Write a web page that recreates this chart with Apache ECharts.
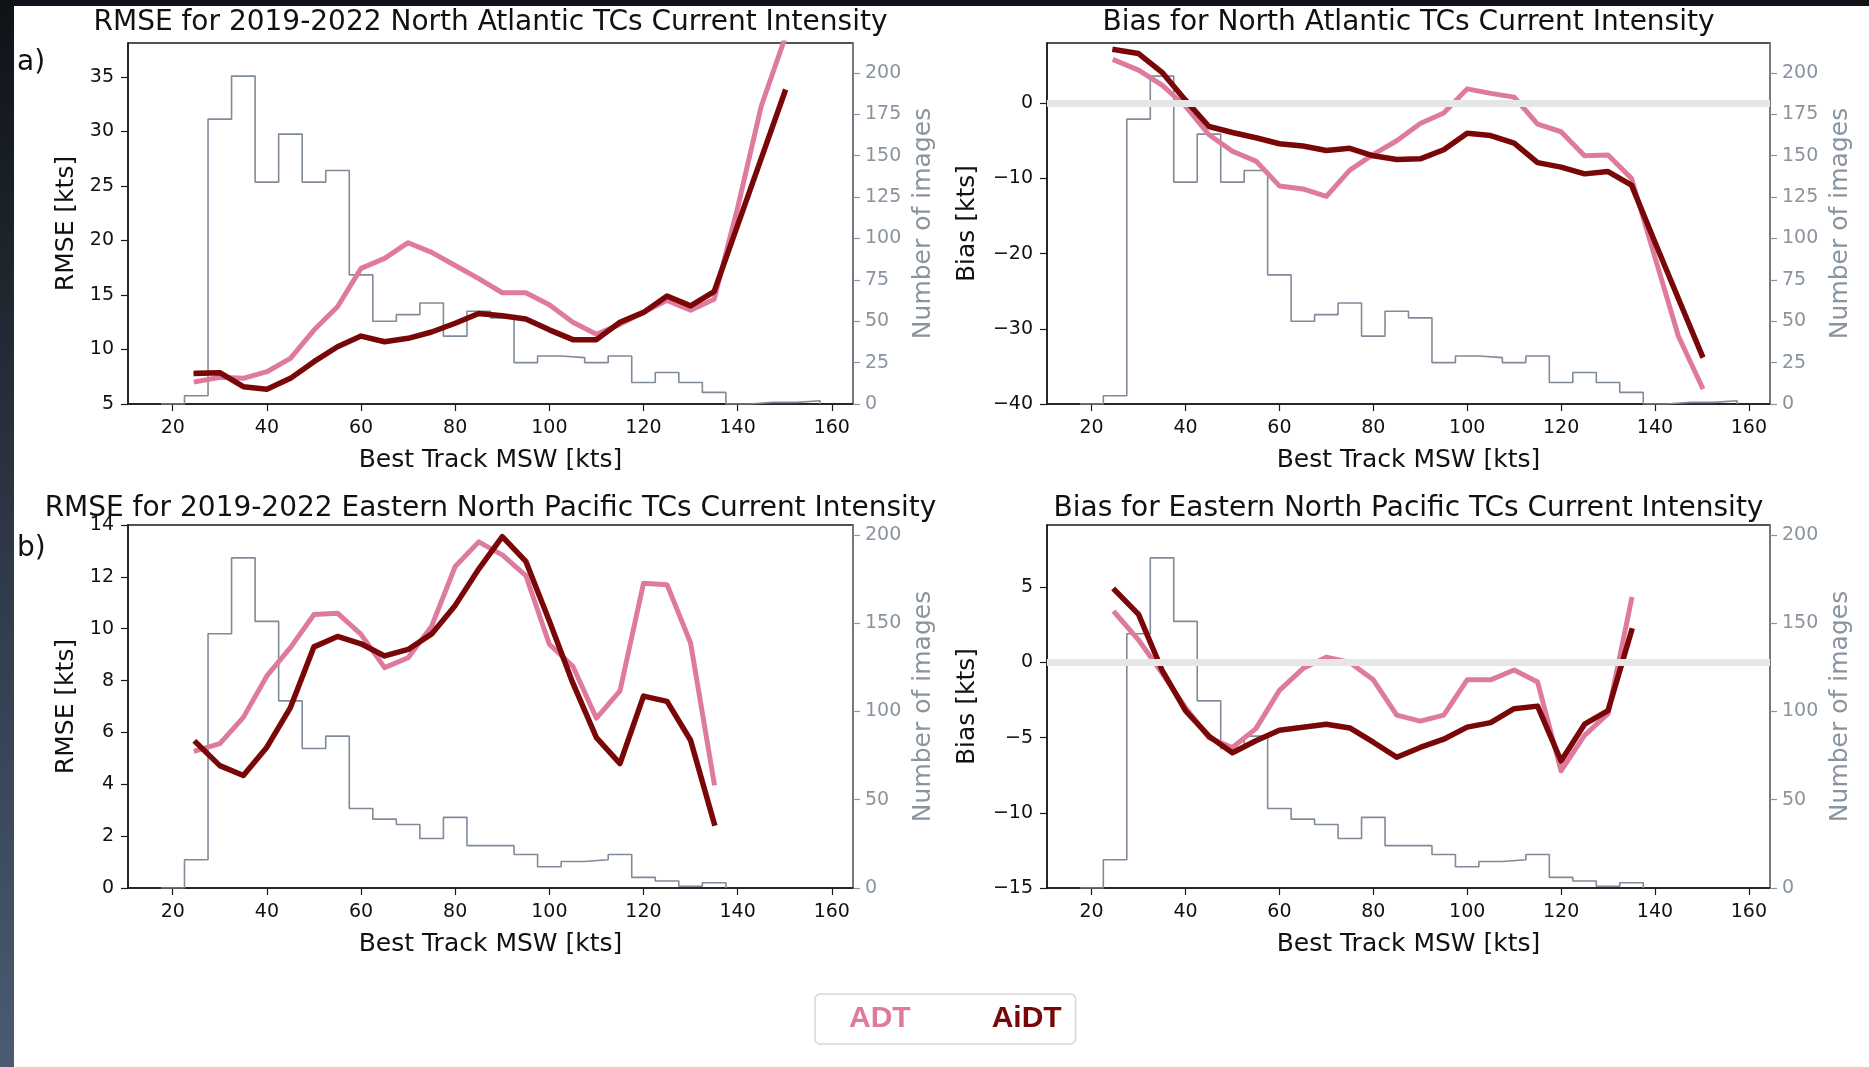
<!DOCTYPE html>
<html>
<head>
<meta charset="utf-8">
<script src="https://cdn.jsdelivr.net/npm/echarts@6/dist/echarts.min.js"></script>
<style>
  html, body { margin: 0; padding: 0; background: #fff; }
  #chart { position: absolute; left: 0; top: 0; width: 1869px; height: 1067px; }
  #edgeLeft { position: absolute; left: 0; top: 0; width: 14px; height: 1067px;
              background: linear-gradient(#0f1318, #4b5b72); }
  #edgeTop { position: absolute; left: 0; top: 0; width: 1869px; height: 6px; background: #0f1318; }
</style>
</head>
<body>
<div id="chart"></div>
<div id="edgeLeft"></div>
<div id="edgeTop"></div>
<script>
// ---- North Atlantic (2019-2022) ----
const naKts = [25, 30, 35, 40, 45, 50, 55, 60, 65, 70, 75, 80, 85, 90, 95, 100, 105, 110, 115, 120, 125, 130, 135, 140, 145, 150];
const naRmseADT  = [7.05, 7.45, 7.35, 7.96, 9.19, 11.78, 13.92, 17.44, 18.35, 19.79, 18.9, 17.7, 16.5, 15.2, 15.2, 14.1, 12.5, 11.4, 12.3, 13.4, 14.5, 13.6, 14.6, 23.0, 32.3, 38.5];
const naRmseAiDT = [7.81, 7.87, 6.59, 6.35, 7.35, 8.88, 10.25, 11.23, 10.71, 11.02, 11.6, 12.4, 13.3, 13.1, 12.8, 11.8, 10.9, 10.9, 12.5, 13.4, 14.9, 14.0, 15.3, 21.4, 27.5, 33.6];
const naBiasADT  = [5.7, 4.4, 2.4, -0.4, -4.2, -6.4, -7.7, -11.0, -11.4, -12.4, -8.9, -6.8, -5.0, -2.7, -1.3, 1.9, 1.3, 0.8, -2.8, -3.8, -7.0, -6.9, -10.0, -20.5, -31.0, -37.7];
const naBiasAiDT = [7.1, 6.6, 4.1, 0.4, -3.1, -3.9, -4.6, -5.4, -5.7, -6.3, -6.0, -7.0, -7.5, -7.4, -6.2, -4.0, -4.3, -5.3, -7.9, -8.5, -9.4, -9.1, -10.9, -18.5, -26.0, -33.5];
const naBins  = [20, 25, 30, 35, 40, 45, 50, 55, 60, 65, 70, 75, 80, 85, 90, 95, 100, 105, 110, 115, 120, 125, 130, 135, 140, 145, 150, 155];
const naCount = [0, 5, 172, 198, 134, 163, 134, 141, 78, 50, 54, 61, 41, 56, 52, 25, 29, 28, 25, 29, 13, 19, 13, 7, 0, 1, 1, 2];

// ---- Eastern North Pacific (2019-2022) ----
const enpKts = [25, 30, 35, 40, 45, 50, 55, 60, 65, 70, 75, 80, 85, 90, 95, 100, 105, 110, 115, 120, 125, 130, 135];
const enpRmseADT  = [5.3, 5.57, 6.58, 8.18, 9.27, 10.55, 10.6, 9.78, 8.5, 8.88, 10.1, 12.4, 13.35, 12.85, 12.05, 9.4, 8.55, 6.55, 7.6, 11.75, 11.7, 9.45, 4.05];
const enpRmseAiDT = [5.6, 4.72, 4.34, 5.43, 6.96, 9.3, 9.7, 9.42, 8.95, 9.2, 9.8, 10.9, 12.3, 13.55, 12.6, 10.3, 7.9, 5.8, 4.8, 7.4, 7.2, 5.7, 2.5];
const enpBiasADT  = [3.3, 1.5, -0.7, -3.0, -5.0, -5.65, -4.4, -1.85, -0.4, 0.35, 0.0, -1.15, -3.5, -3.9, -3.5, -1.15, -1.15, -0.5, -1.3, -7.2, -4.85, -3.4, 4.2];
const enpBiasAiDT = [4.8, 3.2, -0.5, -3.2, -4.9, -6.0, -5.2, -4.5, -4.3, -4.1, -4.35, -5.3, -6.3, -5.65, -5.1, -4.3, -4.0, -3.07, -2.9, -6.55, -4.1, -3.2, 2.1];
const enpBins  = [20, 25, 30, 35, 40, 45, 50, 55, 60, 65, 70, 75, 80, 85, 90, 95, 100, 105, 110, 115, 120, 125, 130, 135];
const enpCount = [0, 16, 144, 187, 151, 106, 79, 86, 45, 39, 36, 28, 40, 24, 24, 19, 12, 15, 16, 19, 6, 4, 1, 3];

// ---- tick labels ----
const xTicks = [20, 40, 60, 80, 100, 120, 140, 160];
const naRmseTicks = [5, 10, 15, 20, 25, 30, 35];
const naBiasTicks = [-40, -30, -20, -10, 0];
const enpRmseTicks = [0, 2, 4, 6, 8, 10, 12, 14];
const enpBiasTicks = [-15, -10, -5, 0, 5];
const naCountTicks = [0, 25, 50, 75, 100, 125, 150, 175, 200];
const enpCountTicks = [0, 50, 100, 150, 200];

const ADT_COLOR = '#de7b9c';
const AIDT_COLOR = '#7a0707';
const HIST_COLOR = '#808b99';
const GRAY_TEXT = '#8a949f';
const INK = '#111';
const FONT = 'DejaVu Sans';

// panel frames [left, top, width, height]
const panels = [
  { box: [128, 43, 725, 361], title: 'RMSE for 2019-2022 North Atlantic TCs Current Intensity', titleTop: 9,
    yName: 'RMSE [kts]', yGap: 49, yMin: 5, yMax: 38.1, yTicks: naRmseTicks, cMax: 218, cTicks: naCountTicks,
    kts: naKts, adt: naRmseADT, aidt: naRmseAiDT, bins: naBins, count: naCount, zero: false },
  { box: [1047, 43, 723, 361], title: 'Bias for North Atlantic TCs Current Intensity', titleTop: 9,
    yName: 'Bias [kts]', yGap: 67, yMin: -40, yMax: 8, yTicks: naBiasTicks, cMax: 218, cTicks: naCountTicks,
    kts: naKts, adt: naBiasADT, aidt: naBiasAiDT, bins: naBins, count: naCount, zero: true },
  { box: [128, 525, 725, 363], title: 'RMSE for 2019-2022 Eastern North Pacific TCs Current Intensity', titleTop: 495,
    yName: 'RMSE [kts]', yGap: 49, yMin: 0, yMax: 14, yTicks: enpRmseTicks, cMax: 205.6, cTicks: enpCountTicks,
    kts: enpKts, adt: enpRmseADT, aidt: enpRmseAiDT, bins: enpBins, count: enpCount, zero: false },
  { box: [1047, 525, 723, 363], title: 'Bias for Eastern North Pacific TCs Current Intensity', titleTop: 495,
    yName: 'Bias [kts]', yGap: 67, yMin: -15, yMax: 9.15, yTicks: enpBiasTicks, cMax: 205.6, cTicks: enpCountTicks,
    kts: enpKts, adt: enpBiasADT, aidt: enpBiasAiDT, bins: enpBins, count: enpCount, zero: true }
];

const minus = v => String(v).replace('-', '\u2212');
const pairs = (xs, ys) => xs.map((x, i) => [x, ys[i]]);

// step outline of a histogram, from bin centres and counts
function histOutline(bins, counts) {
  const half = (bins[1] - bins[0]) / 2;
  const pts = [[bins[0] - half, 0]];
  bins.forEach((b, i) => pts.push([b + half, counts[i]]));
  pts.push([bins[bins.length - 1] + half, 0]);
  return pts;
}

const grid = [], xAxis = [], yAxis = [], series = [], title = [];

panels.forEach((p, g) => {
  const [l, t, w, h] = p.box;
  grid.push({ left: l, top: t, width: w, height: h, show: true, borderColor: '#1a1a1a', borderWidth: 1.5,
              backgroundColor: '#fff', containLabel: false });
  title.push({ text: p.title, left: l + w / 2, top: p.titleTop, textAlign: 'center', padding: 0,
               textStyle: { fontFamily: FONT, fontSize: 28, fontWeight: 'normal', color: INK } });

  xAxis.push({
    gridIndex: g, type: 'value', min: 10.5, max: 164.5,
    axisLine: { onZero: false, lineStyle: { color: '#1a1a1a', width: 1.5 } },
    axisTick: { customValues: xTicks, length: 7, lineStyle: { color: '#1a1a1a', width: 1.2 } },
    axisLabel: { customValues: xTicks, fontFamily: FONT, fontSize: 19, color: INK, margin: 15 },
    splitLine: { show: false },
    name: 'Best Track MSW [kts]', nameLocation: 'middle', nameGap: 44,
    nameTextStyle: { fontFamily: FONT, fontSize: 25, color: INK }
  });

  yAxis.push({
    gridIndex: g, type: 'value', position: 'left', min: p.yMin, max: p.yMax,
    axisLine: { show: true, onZero: false, lineStyle: { color: '#1a1a1a', width: 1.5 } },
    axisTick: { show: true, customValues: p.yTicks, length: 7, lineStyle: { color: '#1a1a1a', width: 1.2 } },
    axisLabel: { customValues: p.yTicks, fontFamily: FONT, fontSize: 19, color: INK, margin: 14, formatter: minus },
    splitLine: { show: false },
    name: p.yName, nameLocation: 'middle', nameGap: p.yGap, nameRotate: 90,
    nameTextStyle: { fontFamily: FONT, fontSize: 25, color: INK }
  });
  yAxis.push({
    gridIndex: g, type: 'value', position: 'right', min: 0, max: p.cMax,
    axisLine: { show: true, onZero: false, lineStyle: { color: '#7d8794', width: 1.5 } },
    axisTick: { show: true, customValues: p.cTicks, length: 7, lineStyle: { color: '#8a949f', width: 1.2 } },
    axisLabel: { customValues: p.cTicks, fontFamily: FONT, fontSize: 19, color: GRAY_TEXT, margin: 12 },
    splitLine: { show: false },
    name: 'Number of images', nameLocation: 'middle', nameGap: 58, nameRotate: 90,
    nameTextStyle: { fontFamily: FONT, fontSize: 25, color: GRAY_TEXT }
  });

  const yl = 2 * g, yr = 2 * g + 1;
  if (p.zero) {
    series.push({
      type: 'line', xAxisIndex: g, yAxisIndex: yl, data: [], z: 1, silent: true,
      markLine: { silent: true, symbol: 'none', label: { show: false },
                  lineStyle: { color: '#e6e6e6', width: 7, type: 'solid' },
                  data: [{ yAxis: 0 }] }
    });
  }
  series.push({
    name: 'count', type: 'line', step: 'start', xAxisIndex: g, yAxisIndex: yr, z: 2,
    data: histOutline(p.bins, p.count), showSymbol: false, silent: true,
    lineStyle: { color: HIST_COLOR, width: 1.6 }
  });
  series.push({
    name: 'ADT', type: 'line', xAxisIndex: g, yAxisIndex: yl, z: 3, clip: true,
    data: pairs(p.kts, p.adt), showSymbol: false, color: ADT_COLOR,
    lineStyle: { color: ADT_COLOR, width: 5, cap: 'square', join: 'round' }
  });
  series.push({
    name: 'AiDT', type: 'line', xAxisIndex: g, yAxisIndex: yl, z: 4, clip: true,
    data: pairs(p.kts, p.aidt), showSymbol: false, color: AIDT_COLOR,
    lineStyle: { color: AIDT_COLOR, width: 5.5, cap: 'square', join: 'round' }
  });
});

// panel letters
title.push({ text: 'a)', left: 17, top: 49, padding: 0,
             textStyle: { fontFamily: FONT, fontSize: 28, fontWeight: 'normal', color: INK } });
title.push({ text: 'b)', left: 17, top: 535, padding: 0,
             textStyle: { fontFamily: FONT, fontSize: 28, fontWeight: 'normal', color: INK } });

const chart = echarts.init(document.getElementById('chart'), null, { renderer: 'canvas' });
chart.setOption({
  animation: false,
  backgroundColor: '#fff',
  title, grid, xAxis, yAxis, series,
  legend: {
    left: 815, top: 994, orient: 'horizontal',
    data: [{ name: 'ADT', textStyle: { color: ADT_COLOR } }, { name: 'AiDT', textStyle: { color: AIDT_COLOR } }],
    itemWidth: 0, itemHeight: 0, itemGap: 75,
    itemStyle: { opacity: 0 }, lineStyle: { opacity: 0 },
    backgroundColor: '#fff', borderColor: '#d6d6d6', borderWidth: 1.5, borderRadius: 5,
    padding: [10, 14, 10, 28],
    textStyle: { fontFamily: 'Liberation Sans', fontWeight: 'bold', fontSize: 30 },
    selectedMode: false
  }
});
</script>
</body>
</html>
